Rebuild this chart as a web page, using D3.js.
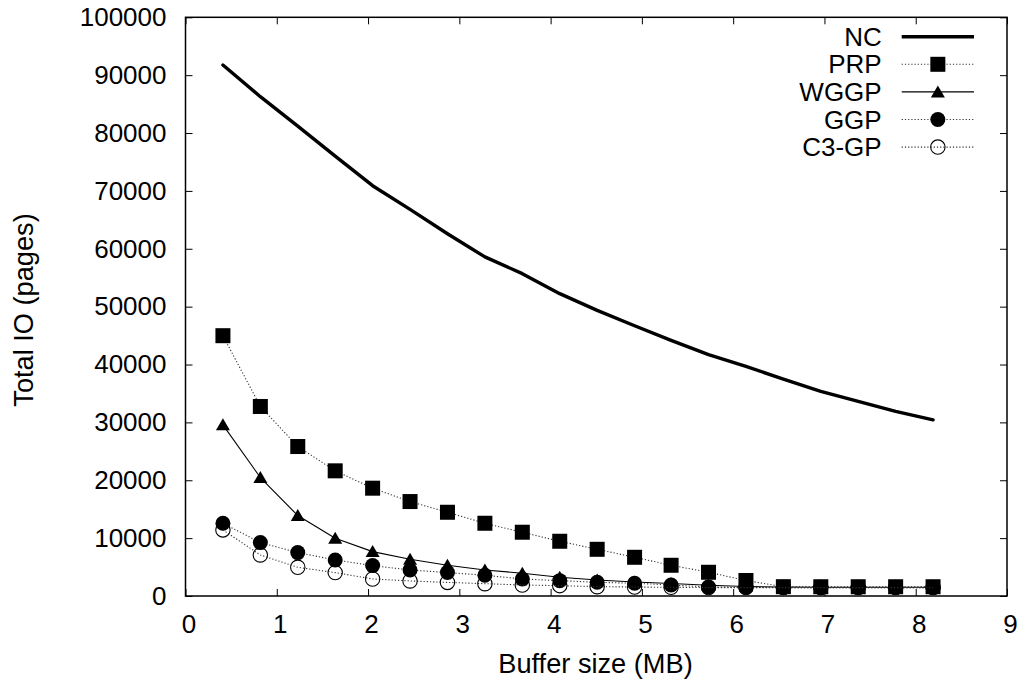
<!DOCTYPE html>
<html>
<head>
<meta charset="utf-8">
<script src="https://cdn.jsdelivr.net/npm/d3@7"></script>
<style>
  html, body { margin: 0; padding: 0; background: #fff; }
  svg { display: block; font-family: "Liberation Sans", Arial, Helvetica, sans-serif; }
</style>
</head>
<body>
<svg id="chart" width="1021" height="681"></svg>
<script>
// Buffer sizes (MB) at which total IO was measured
const bufferMB = [0.41, 0.82, 1.23, 1.64, 2.05, 2.46, 2.87, 3.28, 3.69, 4.10,
                  4.51, 4.92, 5.32, 5.73, 6.14, 6.55, 6.96, 7.37, 7.78, 8.19];

// Total IO (pages) per method
const ncIO   = [91750, 86280, 81200, 76000, 70900, 66800, 62600, 58600, 55700, 52250,
                49360, 46700, 44170, 41700, 39670, 37490, 35350, 33620, 31890, 30450];
const prpIO  = [44980, 32750, 25830, 21630, 18630, 16320, 14470, 12570, 11020, 9460,
                8070, 6690, 5310, 4100, 2680, 1610, 1600, 1600, 1600, 1600];
const wggpIO = [29580, 20470, 13900, 9980, 7670, 6340, 5300, 4500, 3930, 3240,
                2770, 2420, 2150, 1850, 1650, 1550, 1500, 1500, 1500, 1500];
const ggpIO  = [12570, 9230, 7500, 6230, 5250, 4500, 4050, 3580, 2940, 2650,
                2370, 2200, 1900, 1550, 1500, 1450, 1450, 1450, 1450, 1450];
const c3gpIO = [11420, 7090, 4960, 4040, 2940, 2600, 2350, 2130, 1900, 1790,
                1610, 1550, 1500, 1450, 1450, 1450, 1450, 1450, 1450, 1450];

const seriesNames = ["NC", "PRP", "WGGP", "GGP", "C3-GP"];
const xTicks = [0, 1, 2, 3, 4, 5, 6, 7, 8, 9];
const yTicks = [0, 10000, 20000, 30000, 40000, 50000, 60000, 70000, 80000, 90000, 100000];
const xTitle = "Buffer size (MB)";
const yTitle = "Total IO (pages)";

const series = [
  { name: seriesNames[0], values: ncIO,   line: "thick",  marker: null },
  { name: seriesNames[1], values: prpIO,  line: "dotted", marker: "square" },
  { name: seriesNames[2], values: wggpIO, line: "solid",  marker: "triangle" },
  { name: seriesNames[3], values: ggpIO,  line: "dotted", marker: "circle" },
  { name: seriesNames[4], values: c3gpIO, line: "dotted", marker: "ring" }
];

const svg = d3.select("#chart");
const plotLeft = 185.5, plotRight = 1007, plotTop = 17.3, plotBottom = 596;
const FONT = 26, TITLE_FONT = 27.2;

const x = d3.scaleLinear().domain([0, 9]).range([plotLeft, plotRight]);
const y = d3.scaleLinear().domain([0, 100000]).range([plotBottom, plotTop]);

// axes with inward ticks, mirrored on top and right
const tickLen = 7;
function styleAxis(g) {
  g.select(".domain").remove();
  g.selectAll(".tick line").attr("stroke", "#000").attr("stroke-width", 1);
  g.selectAll(".tick text").attr("fill", "#000").style("font-size", FONT + "px");
}
svg.append("g").attr("transform", `translate(0,${plotBottom})`)
  .call(d3.axisBottom(x).tickValues(xTicks).tickFormat(d3.format("d"))
        .tickSizeInner(-tickLen).tickSizeOuter(0).tickPadding(19))
  .call(styleAxis)
  .call(g => g.selectAll(".tick text").attr("dx", 3));
svg.append("g").attr("transform", `translate(0,${plotTop})`)
  .call(d3.axisTop(x).tickValues(xTicks).tickFormat("")
        .tickSizeInner(-tickLen).tickSizeOuter(0))
  .call(styleAxis);
svg.append("g").attr("transform", `translate(${plotLeft},0)`)
  .call(d3.axisLeft(y).tickValues(yTicks).tickFormat(d3.format("d"))
        .tickSizeInner(-tickLen).tickSizeOuter(0).tickPadding(19))
  .call(styleAxis);
svg.append("g").attr("transform", `translate(${plotRight},0)`)
  .call(d3.axisRight(y).tickValues(yTicks).tickFormat("")
        .tickSizeInner(-tickLen).tickSizeOuter(0))
  .call(styleAxis);

// plot frame
svg.append("rect")
  .attr("x", plotLeft).attr("y", plotTop)
  .attr("width", plotRight - plotLeft).attr("height", plotBottom - plotTop)
  .attr("fill", "none").attr("stroke", "#000").attr("stroke-width", 1.5);

// axis titles
svg.append("text")
  .attr("x", 595.5).attr("y", 673.3)
  .attr("text-anchor", "middle").style("font-size", TITLE_FONT + "px")
  .text(xTitle);
svg.append("text")
  .attr("transform", "translate(32.5,310) rotate(-90)")
  .attr("text-anchor", "middle").style("font-size", TITLE_FONT + "px")
  .text(yTitle);

// line and marker styles
function applyLine(sel, kind) {
  sel.attr("fill", "none").attr("stroke-linejoin", "round");
  if (kind === "thick") sel.attr("stroke", "#000").attr("stroke-width", 3.4).attr("stroke-linecap", "round");
  else if (kind === "solid") sel.attr("stroke", "#000").attr("stroke-width", 1.1);
  else sel.attr("stroke", "#333").attr("stroke-width", 1.1).attr("stroke-dasharray", "1.2,2");
}
const triPath = "M0,-6.5L7,5.5L-7,5.5Z";
function drawMarker(g, kind, cx, cy) {
  if (kind === "square") {
    g.append("rect").attr("x", cx - 7.5).attr("y", cy - 7.5)
      .attr("width", 15).attr("height", 15).attr("fill", "#000");
  } else if (kind === "triangle") {
    g.append("path").attr("d", triPath)
      .attr("transform", `translate(${cx},${cy})`).attr("fill", "#000");
  } else if (kind === "circle") {
    g.append("circle").attr("cx", cx).attr("cy", cy).attr("r", 7.5).attr("fill", "#000");
  } else if (kind === "ring") {
    g.append("circle").attr("cx", cx).attr("cy", cy).attr("r", 7.2)
      .attr("fill", "none").attr("stroke", "#000").attr("stroke-width", 1.1);
  }
}

const line = d3.line().x(d => x(d[0])).y(d => y(d[1]));
const plot = svg.append("g");
series.forEach(s => {
  const pts = bufferMB.map((b, i) => [b, s.values[i]]);
  const g = plot.append("g");
  g.append("path").datum(pts).attr("d", line).call(applyLine, s.line);
  if (s.marker) pts.forEach(p => drawMarker(g, s.marker, x(p[0]), y(p[1])));
});

// legend
const legX = 881.7, legL0 = 901.7, legL1 = 974, legRow0 = 36.7, legStep = 27.6;
const legend = svg.append("g");
series.forEach((s, i) => {
  const ry = legRow0 + i * legStep;
  legend.append("text").attr("x", legX).attr("y", ry).attr("dy", "0.35em")
    .attr("text-anchor", "end").style("font-size", FONT + "px").text(s.name);
  legend.append("line").attr("x1", legL0).attr("x2", legL1).attr("y1", ry).attr("y2", ry)
    .call(applyLine, s.line).attr("stroke-linecap", "butt");
  if (s.marker) drawMarker(legend, s.marker, (legL0 + legL1) / 2, ry);
});
</script>
</body>
</html>
